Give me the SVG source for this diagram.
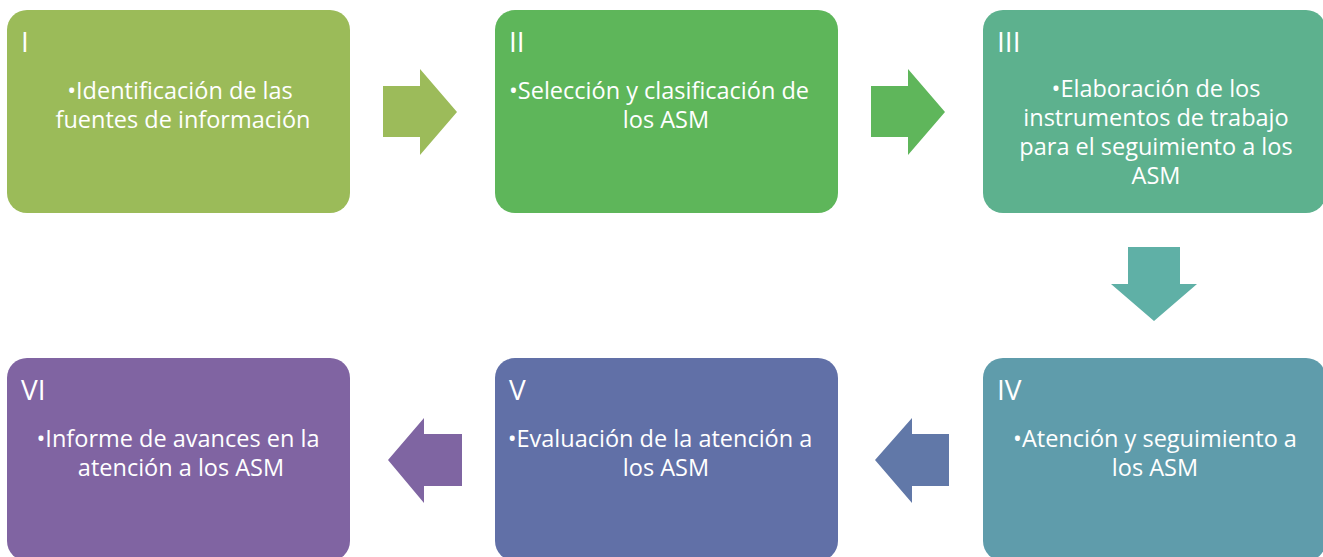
<svg xmlns="http://www.w3.org/2000/svg" width="1323" height="557" viewBox="0 0 1323 557">
<style>
.box{stroke:none}
.num{font-family:"Open Sans","Liberation Sans",sans-serif;font-size:28px;fill:#ffffff}
.txt{font-family:"Open Sans","Liberation Sans",sans-serif;font-size:23.5px;fill:#ffffff;text-anchor:middle}
</style>
<rect width="1323" height="557" fill="#ffffff"/>
<g id="connectors">
<path d="M383,86 H420 V69 L457,112 L420,155 V137 H383 Z" fill="#9CBB5A"/>
<path d="M871,86 H908 V69 L945,112 L908,155 V137 H871 Z" fill="#5FB65B"/>
<path d="M1128,247 H1180 V284 H1197 L1154,321 L1111,284 H1128 Z" fill="#5FB0A6"/>
<path d="M949,434 H912 V418 L875,460 L912,503 V486 H949 Z" fill="#6178A8"/>
<path d="M462,434 H424 V418 L388,460 L424,503 V486 H462 Z" fill="#7F65A2"/>
</g>
<g id="node1">
<rect class="box" x="7" y="10" width="343" height="203" rx="20" fill="#9BBB59"/>
<text class="num" x="21" y="52">I</text>
<text class="txt" x="180" y="99">•Identificación de las</text>
<text class="txt" x="183" y="128">fuentes de información</text>
</g>
<g id="node2">
<rect class="box" x="495" y="10" width="343" height="203" rx="20" fill="#5EB65A"/>
<text class="num" x="509" y="52">II</text>
<text class="txt" x="659" y="99">•Selección y clasificación de</text>
<text class="txt" x="666" y="128">los ASM</text>
</g>
<g id="node3">
<rect class="box" x="983" y="10" width="343" height="203" rx="20" fill="#5DB18E"/>
<text class="num" x="997" y="52">III</text>
<text class="txt" x="1156" y="97">•Elaboración de los</text>
<text class="txt" x="1156" y="126">instrumentos de trabajo</text>
<text class="txt" x="1156" y="155">para el seguimiento a los</text>
<text class="txt" x="1156" y="184">ASM</text>
</g>
<g id="node4">
<rect class="box" x="983" y="358" width="343" height="203" rx="20" fill="#5F9CAB"/>
<text class="num" x="997" y="400">IV</text>
<text class="txt" x="1155" y="447">•Atención y seguimiento a</text>
<text class="txt" x="1155" y="476">los ASM</text>
</g>
<g id="node5">
<rect class="box" x="495" y="358" width="343" height="203" rx="20" fill="#6170A7"/>
<text class="num" x="509" y="400">V</text>
<text class="txt" x="660" y="447">•Evaluación de la atención a</text>
<text class="txt" x="666" y="476">los ASM</text>
</g>
<g id="node6">
<rect class="box" x="7" y="358" width="343" height="203" rx="20" fill="#8064A2"/>
<text class="num" x="21" y="400">VI</text>
<text class="txt" x="178" y="447">•Informe de avances en la</text>
<text class="txt" x="181" y="476">atención a los ASM</text>
</g>
</svg>
